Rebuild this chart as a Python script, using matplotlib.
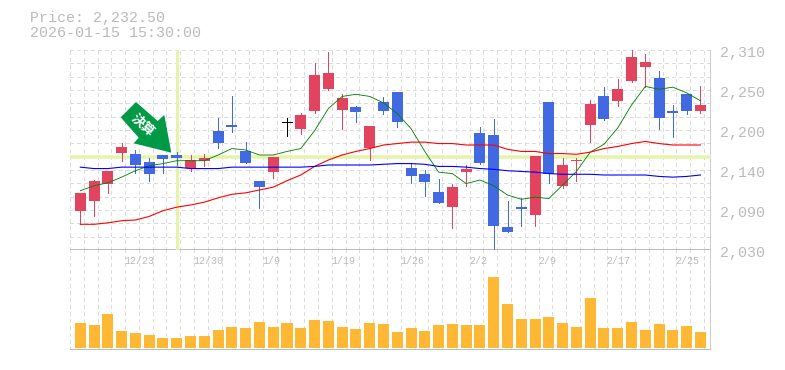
#stock chart with candles, moving averages and volume

import matplotlib
matplotlib.use('Agg')
import matplotlib.pyplot as plt
from matplotlib.patches import Polygon, Rectangle

# prices
opens = [2085, 2099, 2122, 2166, 2164, 2153, 2163, 2163, 2145, 2155, 2197, 2205, 2169, 2127, 2139, 2209,
         2199, 2225, 2255, 2226, 2230, 2173, 2237, 2251, 2145, 2136, 2111, 2090, 2139, 2194, 2191, 2062,
         2090, 2079, 2237, 2120, 2155, 2205, 2246, 2239, 2267, 2286, 2271, 2225, 2248, 2225]
highs = [2110, 2128, 2141, 2180, 2170, 2159, 2163, 2167, 2163, 2164, 2215, 2246, 2181, 2127, 2160, 2215,
         2222, 2292, 2307, 2248, 2232, 2204, 2244, 2251, 2152, 2142, 2129, 2122, 2149, 2202, 2213, 2099,
         2103, 2162, 2237, 2159, 2159, 2240, 2258, 2269, 2310, 2304, 2281, 2233, 2248, 2260]
lows = [2066, 2078, 2110, 2155, 2138, 2127, 2138, 2149, 2141, 2148, 2173, 2195, 2152, 2089, 2131, 2190,
        2192, 2222, 2254, 2199, 2209, 2156, 2220, 2202, 2124, 2106, 2096, 2061, 2120, 2150, 2030, 2055,
        2064, 2064, 2124, 2117, 2127, 2181, 2212, 2232, 2265, 2258, 2199, 2188, 2220, 2222]
closes = [2110, 2127, 2141, 2174, 2149, 2136, 2157, 2159, 2156, 2159, 2180, 2202, 2152, 2118, 2160, 2209,
          2219, 2275, 2278, 2243, 2223, 2204, 2225, 2209, 2134, 2125, 2096, 2118, 2143, 2152, 2064, 2055,
          2087, 2162, 2136, 2149, 2156, 2234, 2213, 2255, 2300, 2293, 2215, 2222, 2225, 2233]

# moving averages
ma_short = [2113, 2120, 2124, 2132, 2141, 2148, 2151, 2155, 2155, 2155, 2163, 2172, 2170, 2163, 2163, 2168,
            2172, 2197, 2228, 2245, 2248, 2245, 2236, 2221, 2200, 2168, 2139, 2137, 2123, 2128, 2120, 2107,
            2101, 2104, 2102, 2121, 2140, 2167, 2178, 2201, 2233, 2259, 2255, 2258, 2250, 2239]
ma_mid = [2066, 2066, 2068, 2071, 2072, 2077, 2085, 2090, 2093, 2097, 2103, 2108, 2110, 2114, 2118, 2127,
          2135, 2147, 2156, 2163, 2168, 2172, 2177, 2179, 2181, 2181, 2179, 2179, 2177, 2177, 2177, 2171,
          2168, 2168, 2165, 2165, 2164, 2167, 2172, 2175, 2179, 2182, 2179, 2177, 2177, 2177]
ma_long = [2146, 2144, 2144, 2146, 2146, 2146, 2146, 2146, 2144, 2144, 2144, 2146, 2146, 2146, 2146, 2146,
           2146, 2147, 2149, 2149, 2149, 2149, 2150, 2151, 2151, 2150, 2147, 2147, 2146, 2144, 2143, 2141,
           2140, 2139, 2137, 2136, 2136, 2136, 2135, 2135, 2135, 2135, 2133, 2132, 2133, 2135]

# volume
volumes = [25, 23, 34, 17, 15, 13, 10, 10, 12, 12, 18, 21, 20, 26, 21, 25, 20, 28, 27, 21, 19, 25, 24,
           16, 20, 17, 23, 24, 23, 23, 71, 44, 29, 29, 31, 25, 21, 50, 20, 20, 26, 18, 24, 18, 22, 16]

date_labels = ['12/23', '12/30', '1/9', '1/19', '1/26', '2/2', '2/9', '2/17', '2/25']
date_index = [4, 9, 14, 19, 24, 29, 34, 39, 44]
price_ticks = [2310, 2254, 2198, 2142, 2086, 2030]
price_labels = ['2,310', '2,250', '2,200', '2,140', '2,090', '2,030']
doji_index = 15
marker_index = 7
marker_price = 2160

W, H = 785, 370
PX = 0.72
RED = '#E2445F'
BLUE = '#4169E1'
GRID = '#DCDCDC'
EDGE = '#BDBDBD'
TXT = '#BBBBBB'
MONO = 'Liberation Mono'
XMIN, XMAX = -0.747, 45.73

fig = plt.figure(figsize=(W/100, H/100), dpi=100)
ax = fig.add_axes([70/W, (H-250)/H, 640.5/W, 200/H])
ax2 = fig.add_axes([70/W, (H-350)/H, 640.5/W, 100/H])

for a in (ax, ax2):
    a.set_xlim(XMIN, XMAX)
    a.set_xticks([i + XMIN for i in range(47)])
    a.tick_params(length=0, labelbottom=False, labelleft=False)
    a.grid(True, axis='x', color=GRID, lw=PX, ls=(0, (3, 3)), antialiased=False)
    a.set_axisbelow(True)
    for s in a.spines.values():
        s.set_visible(False)

ax.set_ylim(2030, 2310)
ax.set_yticks([2310 - 280/15*k for k in range(16)])
ax.grid(True, axis='y', color=GRID, lw=PX, ls=(0, (3, 3)), antialiased=False)
ax2.set_ylim(-2, 98)
ax2.set_yticks([])

# frame lines
ax.axvline(XMAX, color=EDGE, lw=1.5*PX, zorder=1)
ax.axhline(2030, color=EDGE, lw=2*PX, zorder=1)
ax2.axvline(XMAX, color=EDGE, lw=1.5*PX, zorder=1)
ax2.axhline(-2, color=EDGE, lw=3*PX, zorder=1)

# marker cross
ax.axhline(marker_price, color='#E6F4A9', lw=3.5*PX, zorder=2)
ax.axvline(marker_index, color='#E6F4A9', lw=3*PX, ymin=0.01, ymax=0.995, zorder=2)

# candles
for i in range(len(opens)):
    o, h, l, c = opens[i], highs[i], lows[i], closes[i]
    if i == doji_index:
        col = 'black'
    elif c >= o:
        col = RED
    else:
        col = BLUE
    ax.vlines(i, l, h, color=col, lw=PX, antialiased=False, zorder=3)
    if i == doji_index:
        ax.hlines(o, i - 0.36, i + 0.36, color=col, lw=PX, antialiased=False, zorder=3)
    else:
        ax.add_patch(Rectangle((i - 0.4, min(o, c)), 0.8, abs(c - o), fc=col, ec='none', zorder=3))

xs = list(range(len(opens)))
ax.plot(xs, ma_short, color='green', lw=0.62, zorder=4)
ax.plot(xs, ma_mid, color='red', lw=0.8, zorder=4)
ax.plot(xs, ma_long, color='blue', lw=0.8, zorder=4)

ax2.bar(xs, volumes, width=0.8, color='#FFB833', zorder=3)

# text
fig.text(30/W, 1 - 18/H, 'Price: 2,232.50', family=MONO, fontsize=10.8, color=TXT, va='center')
fig.text(30/W, 1 - 33/H, '2026-01-15 15:30:00', family=MONO, fontsize=10.8, color=TXT, va='center')

for p, lab in zip(price_ticks, price_labels):
    ax.annotate(lab, (XMAX, p), xytext=(9.5*PX, -3.5*PX), textcoords='offset points', family=MONO,
                fontsize=10.8, color=TXT, ha='left', va='center', annotation_clip=False)
for i, lab in zip(date_index, date_labels):
    ax2.annotate(lab, (i, 98), xytext=(-11*PX, -11.5*PX), textcoords='offset points', family=MONO,
                 fontsize=7.2, color=TXT, ha='left', va='center', annotation_clip=False)

# green arrow with label, in pixel coordinates of the figure
def px(pts):
    return [(x/W, 1 - y/H) for x, y in pts]

arrow = px([(136, 102), (120.7, 117.3), (138.7, 137.7), (133.7, 143.3), (171.3, 152.7), (164.3, 115), (157.7, 121)])
fig.add_artist(Polygon(arrow, closed=True, fc='#009A47', ec='none', transform=fig.transFigure, zorder=10))
fig.text(143/W, 1 - 124.5/H, '決算', family=['Noto Sans CJK JP', 'DejaVu Sans'], fontsize=9.5, fontweight='bold',
         color='white', rotation=-42, ha='center', va='center', rotation_mode='anchor', zorder=11)

fig.savefig('out.png', dpi=100)
